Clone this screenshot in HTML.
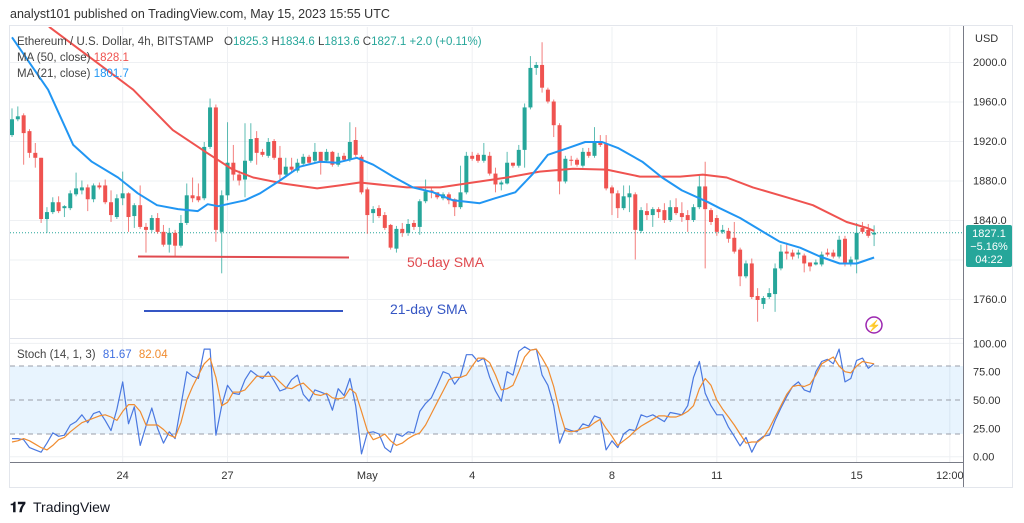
<!DOCTYPE html>
<html><head><meta charset="utf-8"><style>
html,body{margin:0;padding:0;background:#fff;width:1024px;height:523px;overflow:hidden}
svg{display:block;font-family:"Liberation Sans",sans-serif}
</style></head><body>
<svg id="chart" width="1024" height="523" viewBox="0 0 1024 523">
<text x="10" y="18" font-size="12.5" fill="#333">analyst101 published on TradingView.com, May 15, 2023 15:55 UTC</text>
<rect x="9.5" y="25.5" width="1003" height="462" fill="#fff" stroke="#e3e6ec"/>
<g id="grid"></g>
<rect x="10" y="366" width="953" height="68" fill="#2196f3" fill-opacity="0.1"/>
<g id="stochLines" stroke="#9a9ea8" stroke-dasharray="5,4" stroke-width="1">
<line x1="10" x2="963" y1="366" y2="366"/><line x1="10" x2="963" y1="400" y2="400"/><line x1="10" x2="963" y1="434" y2="434"/>
</g>
<line x1="10" x2="963" y1="338.5" y2="338.5" stroke="#e0e3eb"/>
<line x1="10" x2="963" y1="462.5" y2="462.5" stroke="#787b86"/>
<line x1="963.5" x2="963.5" y1="26" y2="487" stroke="#787b86"/>
<defs><clipPath id="pc"><rect x="10" y="27" width="953" height="311"/></clipPath></defs>
<g id="price" clip-path="url(#pc)"></g>
<g id="stoch"></g>
<g id="axes" font-size="11" fill="#333"></g>

<g font-size="11.5">
<text x="17" y="45" fill="#444">Ethereum / U.S. Dollar, 4h, BITSTAMP</text>
<text x="224" y="45" fill="#444">O<tspan fill="#26a69a">1825.3</tspan>  H<tspan fill="#26a69a">1834.6</tspan>  L<tspan fill="#26a69a">1813.6</tspan>  C<tspan fill="#26a69a">1827.1</tspan>  <tspan fill="#26a69a">+2.0 (+0.11%)</tspan></text>
<text x="17" y="61" fill="#444">MA (50, close) <tspan fill="#ef5350">1828.1</tspan></text>
<text x="17" y="77" fill="#444">MA (21, close) <tspan fill="#2196f3">1801.7</tspan></text>
<text x="17" y="358" fill="#444">Stoch (14, 1, 3) <tspan fill="#3f6fe0" dx="4">81.67</tspan> <tspan fill="#f08c30" dx="4">82.04</tspan></text>
</g>

<line x1="138" x2="349" y1="256.5" y2="257.5" stroke="#e04a4f" stroke-width="2"/>
<text x="407" y="267" font-size="14" fill="#e04a4f">50-day SMA</text>
<line x1="144" x2="343" y1="311" y2="311" stroke="#3556c4" stroke-width="2"/>
<text x="390" y="314" font-size="14" fill="#3556c4">21-day SMA</text>
<g><circle cx="874" cy="325" r="8" fill="#fff" stroke="#9c27b0" stroke-width="1.5"/><text x="874" y="329.5" font-size="11" fill="#9c27b0" text-anchor="middle">⚡</text></g>

<rect x="966" y="225" width="46" height="42" rx="2" fill="#26a69a"/>
<text x="989" y="237" font-size="11" fill="#fff" text-anchor="middle">1827.1</text>
<text x="989" y="250" font-size="11" fill="#fff" text-anchor="middle">−5.16%</text>
<text x="989" y="263" font-size="11" fill="#fff" text-anchor="middle">04:22</text>

<g><text x="10" y="512" font-size="14" font-weight="bold" fill="#131722">𝟏𝟕</text><text x="33" y="512" font-size="14" fill="#131722">TradingView</text></g>
</svg>
<script>
const opens=[1926,1942,1946,1930,1908,1903,1841,1848,1858,1852,1852,1866,1870,1873,1861,1875,1875,1858,1843,1862,1867,1844,1855,1833,1830,1842,1828,1815,1827,1814,1837,1865,1864,1862,1914,1954,1828,1865,1898,1886,1881,1900,1923,1909,1905,1920,1903,1886,1894,1890,1897,1904,1900,1909,1900,1909,1896,1905,1901,1921,1904,1871,1847,1852,1845,1835,1811,1831,1827,1837,1833,1859,1870,1868,1862,1866,1861,1853,1868,1905,1906,1900,1905,1887,1876,1877,1898,1895,1911,1954,1994,1997,1972,1960,1936,1879,1901,1901,1895,1909,1905,1920,1917,1873,1867,1852,1863,1866,1829,1849,1845,1851,1850,1840,1853,1847,1845,1840,1853,1874,1850,1842,1828,1829,1822,1810,1783,1796,1763,1755,1762,1765,1791,1808,1807,1805,1804,1797,1795,1795,1807,1807,1803,1821,1795,1800,1832,1830,1825.3];
const closes=[1942,1945,1928,1908,1903,1841,1848,1858,1849,1854,1867,1872,1873,1861,1875,1873,1858,1845,1862,1867,1843,1855,1833,1830,1842,1828,1815,1827,1814,1837,1865,1862,1860,1914,1954,1830,1865,1898,1886,1880,1900,1922,1908,1906,1919,1903,1886,1894,1891,1898,1904,1898,1909,1898,1909,1896,1904,1901,1919,1906,1868,1845,1851,1844,1832,1812,1831,1827,1836,1833,1859,1869,1868,1863,1866,1860,1853,1868,1905,1902,1900,1906,1887,1876,1878,1898,1895,1911,1954,1994,1997,1974,1960,1936,1879,1902,1900,1896,1909,1905,1920,1916,1872,1867,1852,1864,1867,1830,1850,1845,1851,1848,1840,1853,1847,1843,1840,1853,1874,1851,1838,1828,1830,1821,1808,1783,1796,1762,1759,1761,1766,1791,1808,1806,1803,1807,1796,1793,1797,1805,1805,1803,1820,1795,1800,1827,1828,1824,1827.1];
const highs=[1953,1955,1948,1932,1918,1903,1853,1863,1864,1855,1870,1888,1880,1876,1877,1878,1881,1870,1866,1889,1868,1857,1875,1837,1845,1847,1835,1832,1830,1845,1877,1883,1877,1919,1963,1957,1870,1939,1916,1890,1938,1938,1930,1912,1923,1922,1915,1903,1903,1902,1907,1906,1918,1909,1912,1910,1908,1908,1939,1934,1906,1873,1854,1855,1848,1836,1834,1837,1841,1840,1861,1881,1873,1868,1868,1868,1862,1895,1909,1909,1908,1918,1909,1893,1880,1909,1898,1916,1958,2006,2000,2020,1974,1962,1938,1905,1905,1903,1913,1913,1934,1926,1926,1875,1870,1875,1875,1868,1853,1857,1853,1853,1857,1860,1862,1858,1850,1856,1886,1899,1852,1845,1835,1832,1838,1812,1799,1801,1771,1763,1771,1796,1815,1817,1810,1810,1806,1797,1800,1808,1811,1810,1824,1824,1803,1837,1838,1836,1834.6];
const lows=[1924,1940,1896,1903,1893,1837,1827,1846,1847,1843,1850,1864,1866,1849,1858,1871,1856,1838,1841,1855,1828,1832,1831,1807,1828,1826,1813,1807,1803,1812,1835,1858,1858,1860,1912,1818,1786,1860,1880,1875,1863,1898,1896,1904,1903,1901,1880,1883,1889,1888,1895,1896,1898,1886,1898,1894,1894,1899,1899,1904,1866,1826,1837,1842,1830,1810,1807,1823,1824,1830,1825,1857,1862,1861,1860,1856,1844,1851,1866,1900,1898,1898,1885,1868,1870,1876,1893,1893,1893,1952,1987,1969,1958,1924,1866,1877,1895,1894,1893,1903,1903,1914,1870,1845,1842,1850,1848,1800,1827,1840,1833,1842,1837,1838,1845,1838,1828,1838,1851,1791,1835,1824,1826,1817,1806,1773,1781,1760,1737,1750,1760,1747,1789,1800,1800,1801,1787,1788,1794,1793,1803,1801,1801,1793,1793,1786,1826,1822,1813.6];
const ma21Idx=[0,6.2,10.5,13.7,18.2,21.6,24.9,28.5,31.9,33.6,35.4,40,42.6,46,49.4,52.9,55.8,59.2,62,65.4,68.8,72.3,75.7,80.3,82.9,86.4,89.3,92,95.5,98.4,101.3,104,108.2,111.6,115,119.5,121.5,125,128.4,131.8,135.3,138.7,142.1,145,148];
const ma21Vals=[2025,1972,1916,1899,1883,1867,1855,1851,1849,1856,1854,1860,1867,1880,1894,1899,1898,1903,1896,1884,1873,1868,1860,1857,1862,1868,1886,1906,1913,1919,1919,1913,1899,1883,1870,1858,1852,1842,1830,1818,1812,1803,1796,1796,1802];
const ma50Idx=[0,6.5,20.8,27.6,33.5,37.9,41.4,46.5,52.4,56.3,59.7,67.8,73.5,79.1,85,90.6,96.3,102.1,107.8,114.7,118.6,122.7,127.2,133,137.5,143.3,146.8,148];
const ma50Vals=[2075,2035,1972,1931,1908,1891,1883,1877,1872,1875,1878,1873,1873,1878,1883,1889,1892,1891,1884,1884,1886,1883,1873,1863,1855,1838,1832,1829];
const stochK=[16,16,15,8,6,4,12,21,18,19,28,31,37,30,38,40,32,23,42,66,29,44,10,27,43,25,12,22,16,45,75,71,69,95,95,19,45,63,56,55,68,76,72,69,75,67,58,60,68,72,55,49,59,57,55,41,60,54,69,45,2.5,21,22,20,8,4,20,18,22,21,40,47,52,63,75,73,64,71,90,90,84,87,70,58,49,75,72,93,97,94,95,72,63,45,12,25,23,22,29,27,36,34,6,14,8,20,24,23,37,35,37,34,31,39,38,37,45,70,84,56,45,37,37,26,18,9.5,17,4,14,18,19,32,43,53,62,66,59,57,75,84,86,82,95,66,69,85,87,78,82];
const stochD=[13,14,16,14,11,8,6,10,15,17,22,26,30,32,34,36,37,35,32,40,46,46,40,28,28,28,24,19,17,30,50,62,72,82,87,70,45,48,57,57,59,65,71,71,71,71,66,61,60,63,65,60,55,54,56,52,51,52,60,56,40,23,15,17,20,14,10,12,16,19,21,28,38,48,58,68,70,70,72,80,87,87,83,72,59,60,63,75,88,94,95,87,78,62,40,23,22,23,25,26,30,33,25,18,10,14,18,23,27,30,33,36,36,35,35,37,40,45,60,69,63,50,42,35,28,20,12,13,13,17,25,35,45,55,62,63,62,64,72,82,85,88,80,75,74,80,84,83,82];
const priceTicks=[2000,1960,1920,1880,1840,1800,1760];
const stochTicks=[100,75,50,25,0];
const dayLabels=["24","27","May","4","8","11","15","12:00"];
const dayIdx=[19,37,61,79,103,121,145,161];
const lastPrice=1827.1;

const NS="http://www.w3.org/2000/svg";
const xS=i=>12+i*5.825;
const yP=p=>62+(2000-p)*0.9875;
const yS=v=>456.7-v*1.133;
function mk(tag,attrs,parent){const e=document.createElementNS(NS,tag);for(const k in attrs)e.setAttribute(k,attrs[k]);parent.appendChild(e);return e;}
const grid=document.getElementById('grid'),price=document.getElementById('price'),stoch=document.getElementById('stoch'),axes=document.getElementById('axes');

priceTicks.forEach(p=>{
  const l=mk('line',{x1:10,x2:963,y1:yP(p)+0.5,y2:yP(p)+0.5,stroke:'#eef0f3'},grid);
  
  
  const t=mk('text',{x:973,y:yP(p)+4},axes);t.textContent=p.toFixed(1);
  
  
});
const usd=mk('text',{x:975,y:42},axes);usd.textContent='USD';


stochTicks.forEach(v=>{
  const t=mk('text',{x:973,y:yS(v)+4},axes);t.textContent=v.toFixed(2);
  
  
});
[100,0].forEach(v=>{
  const l=mk('line',{x1:10,x2:963,y1:yS(v),y2:yS(v),stroke:'#eef0f3'},grid);
  
  
});
dayLabels.forEach((lab,k)=>{
  const x=xS(dayIdx[k]);
  const l=mk('line',{x1:x,x2:x,y1:27,y2:462,stroke:'#eef0f3'},grid);
  
  
  const t=mk('text',{x:x,y:479,'text-anchor':'middle'},axes);t.textContent=lab;
  
  
});
const lp=mk('line',{x1:10,x2:963,y1:yP(lastPrice),y2:yP(lastPrice),stroke:'#26a69a','stroke-dasharray':'1,2'},price);



for(let i=0;i<closes.length;i++){
  const up=closes[i]>=opens[i];const col=up?'#26a69a':'#ef5350';
  const x=xS(i);
  const g=mk('g',{},price);
  
  
  mk('line',{x1:x,x2:x,y1:yP(highs[i]),y2:yP(lows[i]),stroke:col,'stroke-width':1,'stroke-opacity':0.75},g);
  const top=yP(Math.max(opens[i],closes[i])),bot=yP(Math.min(opens[i],closes[i]));
  mk('rect',{x:x-2,y:top,width:4,height:Math.max(1,bot-top),fill:col},g);
}
function poly(idx,vals,yf,col,w,parent,name){
  const pts=vals.map((v,k)=>xS(idx?idx[k]:k).toFixed(1)+','+yf(v).toFixed(1)).join(' ');
  const p=mk('polyline',{points:pts,fill:'none',stroke:col,'stroke-width':w,'stroke-linejoin':'round'},parent);
  
  
}
poly(ma50Idx,ma50Vals,yP,'#ef5350',2,price,'ma50-line');
poly(ma21Idx,ma21Vals,yP,'#2196f3',2,price,'ma21-line');
poly(null,stochK,yS,'#4a78e0',1.2,stoch,'stoch-k-line');
poly(null,stochD,yS,'#f08c30',1.2,stoch,'stoch-d-line');
</script>
</body></html>
